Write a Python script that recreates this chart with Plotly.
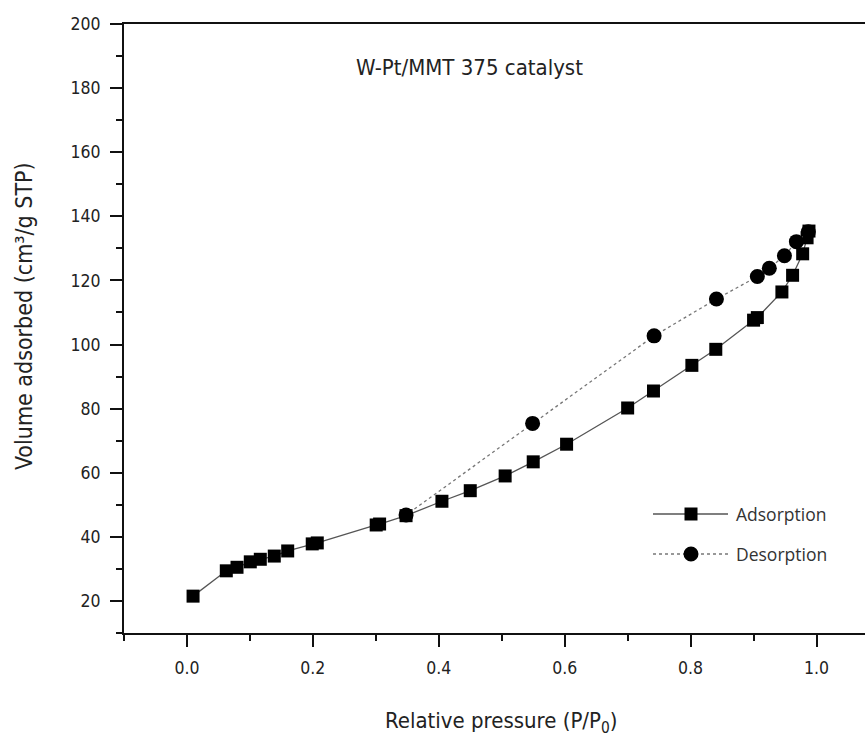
import plotly.graph_objects as go

# ---- data ----
ads_x = [0.0097, 0.0625, 0.0795, 0.1006, 0.1165, 0.1387, 0.160, 0.199, 0.207,
         0.3006, 0.306, 0.348, 0.405, 0.450, 0.5054, 0.550, 0.603, 0.700, 0.741,
         0.802, 0.840, 0.900, 0.906, 0.945, 0.962, 0.978, 0.985, 0.988]
ads_y = [21.5, 29.4, 30.5, 32.2, 33.0, 34.0, 35.6, 37.8, 38.1,
         43.7, 44.0, 46.6, 51.1, 54.4, 59.0, 63.4, 68.9, 80.2, 85.5,
         93.5, 98.5, 107.6, 108.4, 116.4, 121.6, 128.3, 133.3, 135.4]

des_x = [0.987, 0.968, 0.949, 0.925, 0.906, 0.841, 0.742, 0.549, 0.348]
des_y = [135.2, 132.1, 127.7, 123.8, 121.2, 114.2, 102.7, 75.4, 46.8]

x_ticks = [0.0, 0.2, 0.4, 0.6, 0.8, 1.0]
x_labels = ["0.0", "0.2", "0.4", "0.6", "0.8", "1.0"]
y_ticks = [20, 40, 60, 80, 100, 120, 140, 160, 180, 200]

title_text = "W-Pt/MMT 375 catalyst"
x_title = "Relative pressure (P/P<sub>0</sub>)"
y_title = "Volume adsorbed (cm³/g STP)"
series_names = ["Adsorption", "Desorption"]

# ---- layout geometry (pixels) ----
W, H = 865, 740
L, R, T, B = 124, 0, 24, 107
PW, PH = W - L - R, H - T - B

def px_x(p):
    return (p - L) / PW

def px_y(p):
    return (H - B - p) / PH

FONT = "DejaVu Sans Condensed, DejaVu Sans"
INK = "#222222"

fig = go.Figure()
fig.add_trace(go.Scatter(
    x=ads_x, y=ads_y, mode="lines+markers", name=series_names[0],
    line=dict(color="#555555", width=1.3),
    marker=dict(symbol="square", size=13, color="black"),
    showlegend=False))
fig.add_trace(go.Scatter(
    x=des_x, y=des_y, mode="lines+markers", name=series_names[1],
    line=dict(color="#777777", width=1.3, dash="dot"),
    marker=dict(symbol="circle", size=15, color="black"),
    showlegend=False))

tickfont = dict(family=FONT, size=17.5, color=INK)

fig.update_xaxes(
    range=[-0.1, 1.077], tickvals=x_ticks, ticktext=x_labels,
    ticks="outside", ticklen=12, tickwidth=2, tickcolor="#111111",
    minor=dict(dtick=0.1, tick0=0, ticks="outside", ticklen=6, tickwidth=2, tickcolor="#111111"),
    showline=True, linewidth=2, linecolor="#111111", mirror=True,
    showgrid=False, zeroline=False, tickfont=tickfont, ticklabelstandoff=6)
fig.update_yaxes(
    range=[10, 200], tickvals=y_ticks,
    ticks="outside", ticklen=12, tickwidth=2, tickcolor="#111111",
    minor=dict(dtick=10, tick0=0, ticks="outside", ticklen=6, tickwidth=2, tickcolor="#111111"),
    showline=True, linewidth=2, linecolor="#111111", mirror=False,
    showgrid=False, zeroline=False, tickfont=tickfont, ticklabelstandoff=6)

# custom legend
shapes = []
annotations = []
legend_rows = [(514, "solid", "square", series_names[0], "#555555"),
               (554, "dot", "circle", series_names[1], "#777777")]
for py, dash, sym, name, col in legend_rows:
    shapes.append(dict(type="line", xref="paper", yref="paper",
                       x0=px_x(653), x1=px_x(728), y0=px_y(py), y1=px_y(py),
                       line=dict(color=col, width=1.3, dash=dash)))
    half = 6.5 if sym == "square" else 7.5
    shapes.append(dict(type="rect" if sym == "square" else "circle",
                       xref="paper", yref="paper",
                       xsizemode="pixel", ysizemode="pixel",
                       xanchor=px_x(691), yanchor=px_y(py),
                       x0=-half, x1=half, y0=-half, y1=half,
                       fillcolor="black", line=dict(width=0)))
    annotations.append(dict(text=name, xref="paper", yref="paper",
                            x=px_x(734), y=px_y(py), xanchor="left", yanchor="middle",
                            showarrow=False,
                            font=dict(family="Open Sans", size=17.5, color="#333333")))

annotations.append(dict(text=title_text, xref="paper", yref="paper",
                        x=px_x(354), y=px_y(67), xanchor="left", yanchor="middle",
                        showarrow=False,
                        font=dict(family=FONT, size=22, color=INK)))
annotations.append(dict(text=x_title, xref="paper", yref="paper",
                        x=px_x(501), y=px_y(722), xanchor="center", yanchor="middle",
                        showarrow=False,
                        font=dict(family=FONT, size=22, color=INK)))
annotations.append(dict(text=y_title, xref="paper", yref="paper", textangle=-90,
                        x=px_x(24), y=px_y(316), xanchor="center", yanchor="middle",
                        showarrow=False,
                        font=dict(family=FONT, size=23, color=INK)))

fig.update_layout(
    width=W, height=H, margin=dict(l=L, r=R, t=T, b=B),
    plot_bgcolor="white", paper_bgcolor="white",
    shapes=shapes, annotations=annotations, showlegend=False)

fig.write_html("out.html")
